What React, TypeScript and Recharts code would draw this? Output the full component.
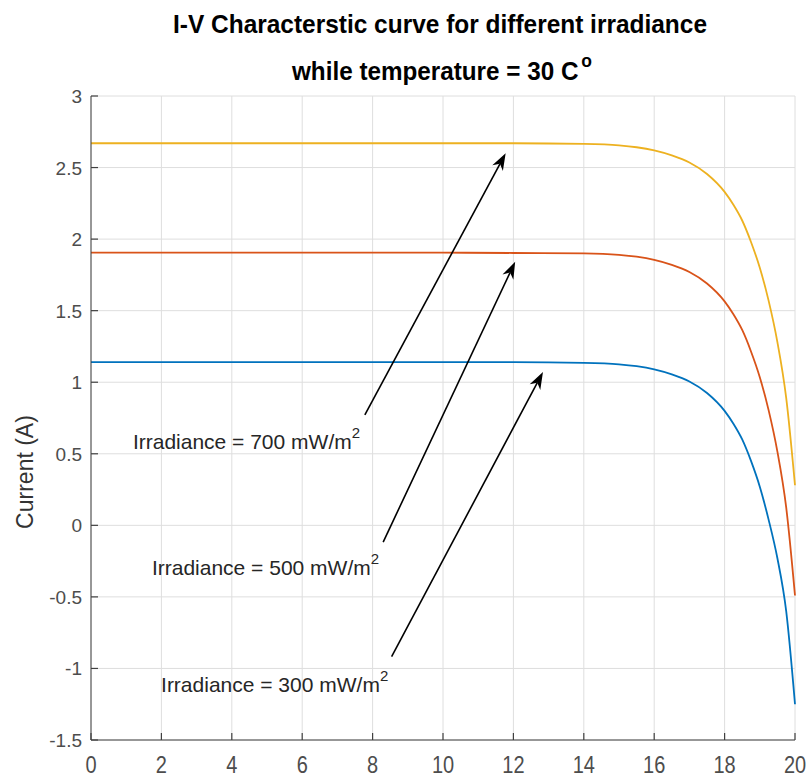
import React from "react";
import {
  LineChart,
  Line,
  XAxis,
  YAxis,
  CartesianGrid,
  ReferenceLine,
  ReferenceDot,
} from "recharts";

// voltage (V) and current (A)
const voltage = [0, 2, 4, 6, 8, 10, 12, 14, 15, 15.5, 16, 16.5, 17, 17.5, 18, 18.25, 18.5, 18.75, 19, 19.25, 19.5, 19.75, 20];
const current700 = [2.67, 2.67, 2.67, 2.67, 2.67, 2.67, 2.67, 2.665, 2.655, 2.642, 2.62, 2.585, 2.535, 2.455, 2.33, 2.24, 2.13, 1.98, 1.8, 1.57, 1.28, 0.89, 0.28];
const current500 = [1.905, 1.905, 1.905, 1.905, 1.905, 1.905, 1.903, 1.9, 1.89, 1.877, 1.855, 1.82, 1.77, 1.69, 1.565, 1.475, 1.365, 1.215, 1.035, 0.805, 0.515, 0.125, -0.49];
const current300 = [1.14, 1.14, 1.14, 1.14, 1.14, 1.14, 1.14, 1.135, 1.125, 1.112, 1.09, 1.055, 1.005, 0.925, 0.8, 0.71, 0.6, 0.45, 0.27, 0.04, -0.23, -0.6, -1.25];

const xTicks = [0, 2, 4, 6, 8, 10, 12, 14, 16, 18, 20];
const yTicks = [-1.5, -1, -0.5, 0, 0.5, 1, 1.5, 2, 2.5, 3];

// annotation labels and arrows (data coordinates)
const labels = [
  { text: "Irradiance = 700 mW/m", x: 1.19, y: 0.53 },
  { text: "Irradiance = 500 mW/m", x: 1.73, y: -0.347 },
  { text: "Irradiance = 300 mW/m", x: 1.99, y: -1.165 },
];
const arrows = [
  { x1: 7.78, y1: 0.771, x2: 11.78, y2: 2.6 },
  { x1: 8.3, y1: -0.117, x2: 12.05, y2: 1.842 },
  { x1: 8.54, y1: -0.918, x2: 12.84, y2: 1.071 },
];

const data = voltage.map((v, i) => ({
  v,
  g700: current700[i],
  g500: current500[i],
  g300: current300[i],
}));

const FONT = "'Liberation Sans', Arial, Helvetica, sans-serif";
const AXIS = "#404040";
const TICK_TEXT = "#4d4d4d";

const XTick = (props: any) => {
  const { x, y, payload } = props;
  const base = y + 25;
  return (
    <g>
      <line x1={x} x2={x} y1={y - 8} y2={y - 15} stroke={AXIS} strokeWidth={1.2} />
      <text
        transform={`translate(${x}, ${base}) scale(1, 1.15)`}
        textAnchor="middle"
        fontSize={20}
        fill={TICK_TEXT}
        fontFamily={FONT}
      >
        {payload.value}
      </text>
    </g>
  );
};

const YTick = (props: any) => {
  const { x, y, payload } = props;
  return (
    <g>
      <line x1={x + 9} x2={x + 16} y1={y} y2={y} stroke={AXIS} strokeWidth={1.2} />
      <text x={x} y={y} dy={7} textAnchor="end" fontSize={19} fill={TICK_TEXT} fontFamily={FONT}>
        {payload.value}
      </text>
    </g>
  );
};

const Arrow = (props: any) => {
  const { x1, y1, x2, y2 } = props;
  const dx = x2 - x1;
  const dy = y2 - y1;
  const len = Math.sqrt(dx * dx + dy * dy);
  const ux = dx / len;
  const uy = dy / len;
  const px = -uy;
  const py = ux;
  const head = 17;
  const notch = 12;
  const half = 6;
  const bx = x2 - ux * head;
  const by = y2 - uy * head;
  const nx = x2 - ux * notch;
  const ny = y2 - uy * notch;
  const pts = `${x2},${y2} ${bx + px * half},${by + py * half} ${nx},${ny} ${bx - px * half},${by - py * half}`;
  return (
    <g>
      <line x1={x1} y1={y1} x2={nx} y2={ny} stroke="#000" strokeWidth={1.6} />
      <polygon points={pts} fill="#000" />
    </g>
  );
};

const App: React.FC = () => {
  return (
    <div style={{ position: "absolute", left: 0, top: 0, width: 809, height: 781, background: "#fff" }}>
      <LineChart width={809} height={781} data={data} margin={{ top: 96, right: 14, bottom: 0, left: 0 }}>
        <CartesianGrid stroke="#dedede" strokeWidth={1} horizontalValues={yTicks} verticalValues={xTicks} />
        <XAxis
          dataKey="v"
          type="number"
          domain={[0, 20]}
          ticks={xTicks}
          height={41}
          tickSize={0}
          tickMargin={8}
          tickLine={false}
          axisLine={{ stroke: AXIS }}
          tick={<XTick />}
          interval={0}
        />
        <XAxis
          xAxisId="top"
          orientation="top"
          dataKey="v"
          type="number"
          domain={[0, 20]}
          ticks={xTicks}
          height={0}
          mirror
          tick={false}
          tickSize={7}
          tickLine={{ stroke: AXIS }}
          axisLine={{ stroke: AXIS }}
        />
        <YAxis
          type="number"
          domain={[-1.5, 3]}
          ticks={yTicks}
          width={91}
          tickSize={0}
          tickMargin={9}
          tickLine={false}
          axisLine={{ stroke: AXIS }}
          tick={<YTick />}
          interval={0}
        />
        <YAxis
          yAxisId="right"
          orientation="right"
          type="number"
          domain={[-1.5, 3]}
          ticks={yTicks}
          width={0}
          mirror
          tick={false}
          tickSize={7}
          tickLine={{ stroke: AXIS }}
          axisLine={{ stroke: AXIS }}
        />
        <Line dataKey="g700" type="monotone" stroke="#EDB120" strokeWidth={1.8} dot={false} isAnimationActive={false} />
        <Line dataKey="g500" type="monotone" stroke="#D95319" strokeWidth={1.8} dot={false} isAnimationActive={false} />
        <Line dataKey="g300" type="monotone" stroke="#0072BD" strokeWidth={1.8} dot={false} isAnimationActive={false} />

        {arrows.map((a, i) => (
          <ReferenceLine
            key={"arrow" + i}
            segment={[{ x: a.x1, y: a.y1 }, { x: a.x2, y: a.y2 }]}
            ifOverflow="visible"
            shape={(p: any) => <Arrow {...p} />}
          />
        ))}
        {labels.map((l, i) => (
          <ReferenceDot
            key={"label" + i}
            x={l.x}
            y={l.y}
            r={0}
            ifOverflow="visible"
            shape={(p: any) => (
              <text x={p.cx} y={p.cy} fontSize={21} fill="#262626" fontFamily={FONT}>
                {l.text}
                <tspan dy={-11} fontSize={15}>2</tspan>
              </text>
            )}
          />
        ))}

        <text x={173} y={33} fontSize={25} fontWeight="bold" fill="#000" fontFamily={FONT} textLength={534} lengthAdjust="spacingAndGlyphs">
          I-V Characterstic curve for different irradiance
        </text>
        <text x={292} y={80} fontSize={25} fontWeight="bold" fill="#000" fontFamily={FONT} textLength={300} lengthAdjust="spacingAndGlyphs">
          while temperature = 30 C
          <tspan dx={3} dy={-13} fontSize={18}>o</tspan>
        </text>
        <text
          x={33}
          y={472}
          transform="rotate(-90, 33, 472)"
          textAnchor="middle"
          fontSize={23}
          fill="#333"
          fontFamily={FONT}
        >
          Current (A)
        </text>
      </LineChart>
    </div>
  );
};

export default App;
